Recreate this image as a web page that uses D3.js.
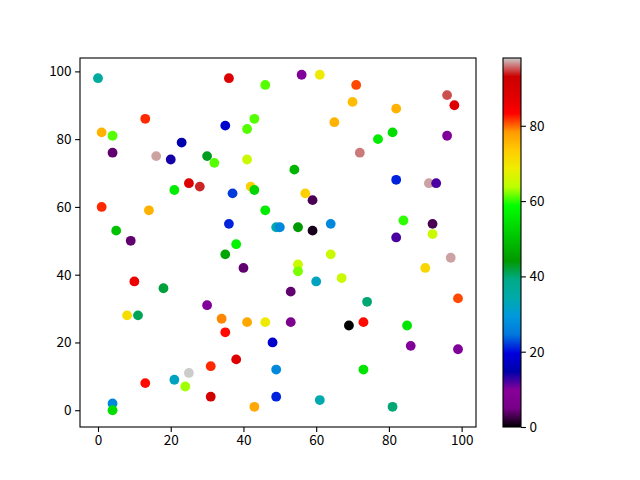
<!DOCTYPE html>
<html>
<head>
<meta charset="utf-8">
<title>scatter</title>
<style>
body { margin: 0; background: #fff; }
svg text { font-family: "Noto Sans CJK SC", "Noto Sans", sans-serif; font-size: 13.5px; fill: #000; }
</style>
<script src="https://cdn.jsdelivr.net/npm/d3@7"></script>
</head>
<body>
<script>
// data
var xs = [0,13,1,4,4,16,23,20,30,25,28,21,1,14,5,
	36,46,56,61,35,43,41,65,41,32,54,42,43,37,57,59,46,36,49,50,55,59,64,38,
	71,70,82,96,98,81,77,96,72,82,91,93,84,92,82,92,
	9,10,18,30,8,11,31,25,21,24,13,4,4,31,
	35,40,55,55,64,60,67,53,34,41,46,53,35,48,38,49,49,43,61,
	97,90,74,99,69,73,85,86,99,73,81];
var ys = [98,86,82,81,76,75,79,74,75,67,66,65,60,59,53,
	98,96,99,99,84,86,83,85,74,73,71,66,65,64,64,62,59,55,54,54,54,53,55,49,
	96,91,89,93,90,82,80,81,76,68,67,67,56,55,51,52,
	50,38,36,31,28,28,13,11,9,7,8,2,0,4,
	46,42,43,41,46,38,39,35,27,26,26,26,23,20,15,12,4,1,3,
	45,42,32,33,25,26,25,19,18,12,1];
var cs = [36,82,76,61,4,97,15,14,43,88,94,56,82,76,50,
	88,61,10,69,18,61,61,76,65,61,48,73,53,22,73,3,56,21,34,27,44,1,27,57,
	81,75,76,95,88,54,56,10,96,21,97,12,60,3,12,65,
	4,86,42,10,71,41,82,98,32,63,83,27,54,91,
	46,4,65,62,65,32,65,4,79,77,69,7,83,18,88,27,21,77,34,
	97,72,40,81,0,83,55,10,10,55,40];
var xTicks = [0, 20, 40, 60, 80, 100];
var yTicks = [0, 20, 40, 60, 80, 100];
var cTicks = [0, 20, 40, 60, 80];

// nipy_spectral
var cmPos = [0,.05,.1,.15,.2,.25,.3,.35,.4,.45,.5,.55,.6,.65,.7,.75,.8,.85,.9,.95,1];
var cmR = [0,.4667,.5333,0,0,0,0,0,0,0,0,0,0,.7333,.9333,1,1,1,.8667,.8,.8];
var cmG = [0,0,0,0,0,.4667,.6,.6667,.6667,.6,.7333,.8667,1,1,.9333,.8,.6,0,0,0,.8];
var cmB = [0,.5333,.6,.6667,.8667,.8667,.8667,.6667,.5333,0,0,0,0,0,0,0,0,0,0,0,.8];
var cmColors = cmPos.map(function(p, i) {
	return d3.rgb(cmR[i]*255, cmG[i]*255, cmB[i]*255).toString();
});
var cmap = d3.scaleLinear().domain(cmPos).range(cmColors).interpolate(d3.interpolateRgb).clamp(true);

var width = 640, height = 480;
var pLeft = 80, pRight = 476, pTop = 58, pBottom = 427;
var cbLeft = 503, cbRight = 521;

var cMin = d3.min(cs), cMax = d3.max(cs);
var x = d3.scaleLinear().domain([-4.95, 103.95]).range([pLeft, pRight]);
var y = d3.scaleLinear().domain([-4.95, 103.95]).range([pBottom, pTop]);
var cNorm = d3.scaleLinear().domain([cMin, cMax]).range([0, 1]);
var cy = d3.scaleLinear().domain([cMin, cMax]).range([pBottom, pTop]);

var svg = d3.select("body").append("svg")
	.attr("width", width)
	.attr("height", height);

var pts = xs.map(function(d, i) { return {x: d, y: ys[i], c: cs[i]}; });

svg.append("g").selectAll("circle")
	.data(pts)
	.enter().append("circle")
	.attr("cx", function(d) { return x(d.x); })
	.attr("cy", function(d) { return y(d.y); })
	.attr("r", 4.9)
	.attr("fill", function(d) { return cmap(cNorm(d.c)); });

// axes
var xAxis = svg.append("g")
	.attr("transform", "translate(0," + pBottom + ")")
	.call(d3.axisBottom(x).tickValues(xTicks).tickSize(4.9).tickPadding(3.5));
var yAxis = svg.append("g")
	.attr("transform", "translate(" + pLeft + ",0)")
	.call(d3.axisLeft(y).tickValues(yTicks).tickSize(4.9).tickPadding(3.5));
[xAxis, yAxis].forEach(function(a) {
	a.select(".domain").remove();
	a.selectAll("line").attr("stroke", "#000").attr("stroke-width", 1.1);
	a.selectAll("text").attr("font-size", null).attr("font-family", null);
});
svg.append("rect")
	.attr("x", pLeft).attr("y", pTop)
	.attr("width", pRight - pLeft).attr("height", pBottom - pTop)
	.attr("fill", "none").attr("stroke", "#000").attr("stroke-width", 1.1);

// colorbar
var grad = svg.append("defs").append("linearGradient")
	.attr("id", "cb").attr("x1", 0).attr("y1", 1).attr("x2", 0).attr("y2", 0);
grad.selectAll("stop")
	.data(cmPos)
	.enter().append("stop")
	.attr("offset", function(d) { return d; })
	.attr("stop-color", function(d, i) { return cmColors[i]; });
svg.append("rect")
	.attr("x", cbLeft).attr("y", pTop)
	.attr("width", cbRight - cbLeft).attr("height", pBottom - pTop)
	.attr("fill", "url(#cb)")
	.attr("stroke", "#000").attr("stroke-width", 1.1);
var cAxis = svg.append("g")
	.attr("transform", "translate(" + cbRight + ",0)")
	.call(d3.axisRight(cy).tickValues(cTicks).tickSize(4.9).tickPadding(3.5));
cAxis.select(".domain").remove();
cAxis.selectAll("line").attr("stroke", "#000").attr("stroke-width", 1.1);
cAxis.selectAll("text").attr("font-size", null).attr("font-family", null);
</script>
</body>
</html>
